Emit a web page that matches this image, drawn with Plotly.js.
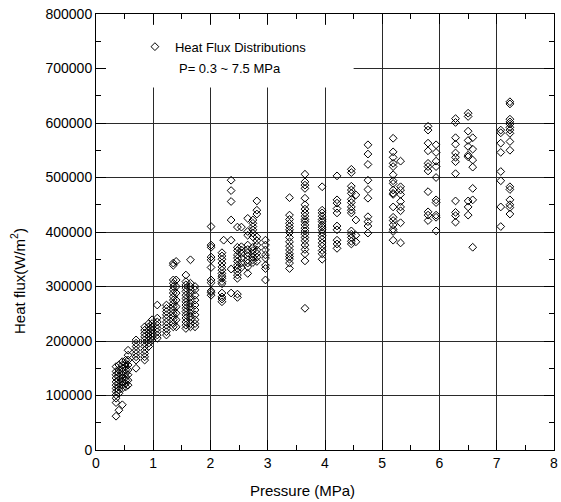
<!DOCTYPE html>
<html>
<head>
<meta charset="utf-8">
<script src="https://cdn.plot.ly/plotly-3.0.1.min.js"></script>
<style>html,body{margin:0;padding:0;background:#fff;}#chart{width:561px;height:502px;}</style>
</head>
<body>
<div id="chart"></div>
<script>
// Pressure levels (MPa) and the heat flux readings (kW/m^2) observed at each level
const pressureLevels = [0.35, 0.40, 0.46, 0.52, 0.56, 0.70, 0.85, 0.92, 0.98, 1.07,
  1.23, 1.35, 1.40, 1.57, 1.65, 1.73, 2.01, 2.20, 2.23, 2.36,
  2.47, 2.54, 2.65, 2.74, 2.81, 2.96, 3.38, 3.65, 3.95, 4.21,
  4.46, 4.54, 4.75, 5.19, 5.32, 5.80, 5.94, 6.28, 6.50, 6.58,
  7.07, 7.23];
const fluxKW = [
  [153,144,138,132,125,119,113,107,101,95,87,62],
  [156,147,141,135,128,122,116,110,104,73],
  [162,156,150,144,138,132,125,119,113,83],
  [165,159,153,147,141,134,128,122,116],
  [183,174,165,156,147,138,128,119],
  [202,196,190,183,177,171,165,150],
  [226,220,214,208,202,196,190,183,177,171,165],
  [232,226,220,214,208,202,196,190],
  [239,232,226,220,214,208,202],
  [266,242,235,229,223,217,211,205],
  [266,260,254,248,242,235,229,223,217,211],
  [343,339,312,306,300,294,288,281,275,269,263,257,251,245,239,232,226],
  [346,312,300,288,275,263,251,239,226],
  [321,309,303,297,291,284,278,272,266,260,254,248,242,235,229,223],
  [349,306,300,294,288,281,275,269,263,257,251,245,239,232,226],
  [300,294,284,275,266,257,248,239,232,226],
  [410,376,372,354,349,335,312,307,292,289,284],
  [362,356,350,343,336,330,324,319,315,309,305,288,281,277,272],
  [385],
  [495,476,456,422,385,332,288],
  [409,372,366,358,352,346,339,333,327,321,315,286,280],
  [409,373,367,361,352,343,335],
  [425,401,394,376,368,362,356,349,343,336,324],
  [422,416,410,404,398,391,372,366,360,354,349,344],
  [457,440,433,391,384,376,367,361,354,346],
  [385,376,367,358,352,339,333,312],
  [463,431,423,416,410,404,399,390,382,374,367,360,355,350,343,333],
  [506,492,486,480,462,450,442,435,429,423,419,413,407,402,396,390,384,376,368,360,347,260],
  [483,440,435,429,423,419,413,409,404,399,393,387,380,374,366,360,350],
  [503,459,453,443,435,411,404,385,378,370],
  [515,509,484,477,471,460,454,446,440,435,402,396,390,383,378],
  [468,422,394,382],
  [560,543,524,495,478,462,428,419,411,398],
  [572,547,537,526,520,505,494,489,477,471,469,446,427,421,413,405,401,385],
  [530,483,477,469,456,446,439,417,380],
  [594,587,563,549,526,520,512,474,437,431,421],
  [560,546,530,520,500,459,454,431,427,402],
  [608,601,573,561,545,537,529,507,457,436,430,418],
  [618,612,585,568,557,541,538,457,446,431],
  [573,552,532,519,480,459,372],
  [587,582,563,546,511,494,446,410],
  [639,635,607,602,598,592,587,581,566,550,483,478,459,450,445,433]
];
const seriesName = 'Heat Flux Distributions';
const rangeNote = 'P= 0.3 ~ 7.5 MPa';
const xTitle = 'Pressure (MPa)';
const yTitle = 'Heat flux(W/m<sup>2</sup>)';

const xs = [], ys = [];
pressureLevels.forEach((p, i) => {
  fluxKW[i].forEach(q => { xs.push(p); ys.push(q * 1000); });
});

const FONT = 'Liberation Sans, Arial, Helvetica, sans-serif';
const axisCommon = {
  showline: true, linecolor: '#000', linewidth: 1, mirror: 'ticks',
  ticks: 'inside', ticklen: 10, tickwidth: 1, tickcolor: '#000',
  showgrid: true, gridcolor: '#2a2a2a', gridwidth: 1, zeroline: false,
  tickfont: {family: FONT, size: 14, color: '#000'}
};

const trace = {
  type: 'scatter', mode: 'markers', x: xs, y: ys, name: seriesName,
  marker: {symbol: 'diamond-open', size: 6, color: '#000', line: {width: 1, color: '#000'}},
  showlegend: true, cliponaxis: false
};

const layout = {
  width: 561, height: 502,
  margin: {l: 96, r: 7, t: 14, b: 52},
  paper_bgcolor: '#fff', plot_bgcolor: '#fff',
  font: {family: FONT, color: '#000'},
  xaxis: Object.assign({}, axisCommon, {
    range: [0, 8], tick0: 0, dtick: 1,
    minor: {ticks: 'inside', ticklen: 5, dtick: 0.5, tick0: 0, tickcolor: '#000', showgrid: false}
  }),
  yaxis: Object.assign({}, axisCommon, {
    range: [0, 800000], tick0: 0, dtick: 100000, tickformat: 'd',
    minor: {ticks: 'inside', ticklen: 5, dtick: 50000, tick0: 0, tickcolor: '#000', showgrid: false}
  }),
  showlegend: true,
  legend: {x: 0.085, y: 0.925, xanchor: 'left', yanchor: 'middle', bgcolor: 'rgba(255,255,255,0)',
    borderwidth: 0, font: {family: FONT, size: 13, color: '#000'}},
  shapes: [{type: 'rect', xref: 'x', yref: 'y', x0: 0.15, x1: 4.5, y0: 665000, y1: 780000,
    fillcolor: '#fff', line: {width: 0}, layer: 'between'}],
  annotations: [
    {xref: 'paper', yref: 'y', x: 0.177, y: 700000, xanchor: 'left', yanchor: 'middle',
     text: rangeNote, showarrow: false, font: {family: FONT, size: 13, color: '#000'}},
    {xref: 'paper', yref: 'paper', x: 0.45, y: -0.094, xanchor: 'center', yanchor: 'middle',
     text: xTitle, showarrow: false, font: {family: FONT, size: 15, color: '#000'}},
    {xref: 'paper', yref: 'paper', x: -0.17, y: 0.388, xanchor: 'center', yanchor: 'middle',
     textangle: -90, text: yTitle, showarrow: false, font: {family: FONT, size: 15, color: '#000'}}
  ]
};

Plotly.newPlot('chart', [trace], layout, {displayModeBar: false, staticPlot: true});
</script>
</body>
</html>
